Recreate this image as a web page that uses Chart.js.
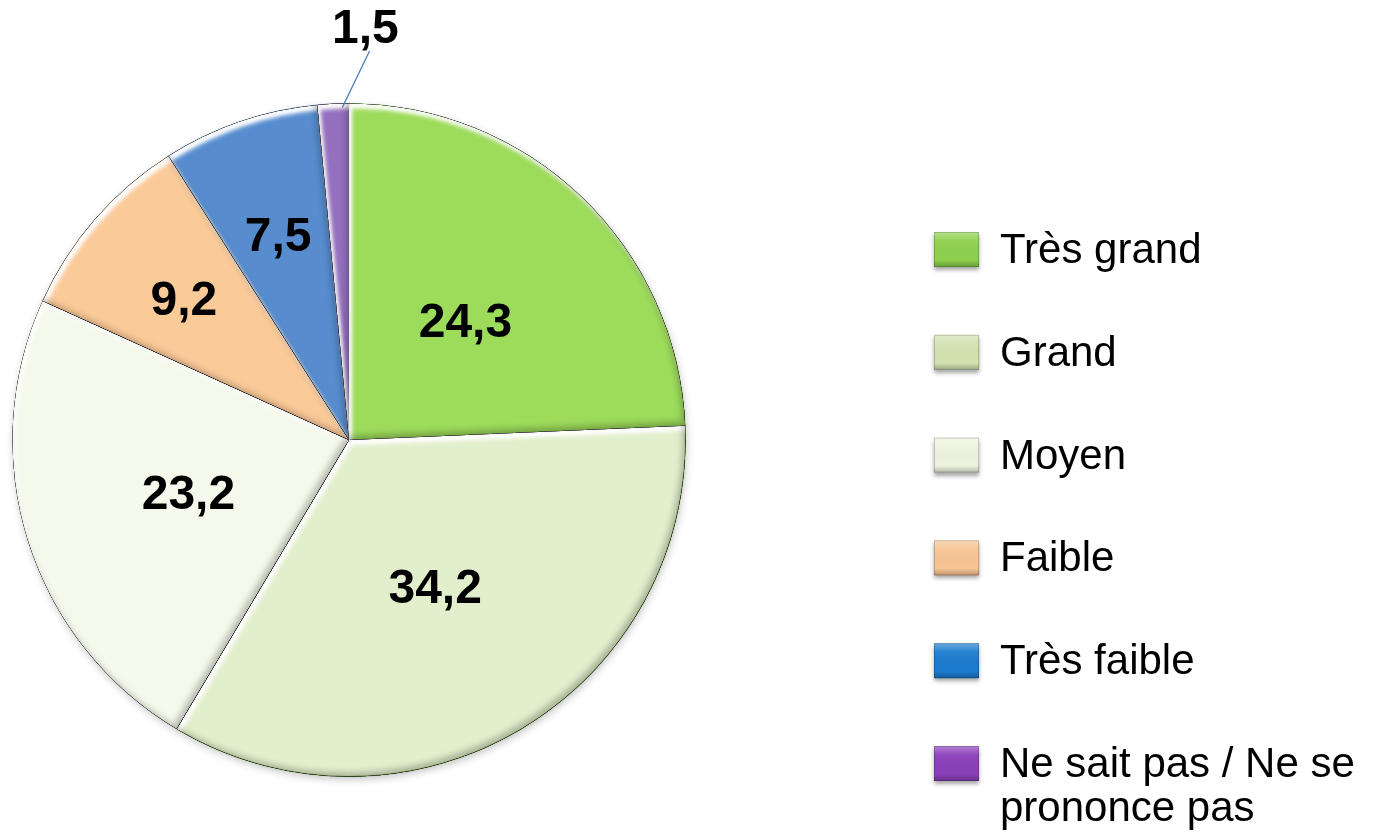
<!DOCTYPE html>
<html lang="fr">
<head>
<meta charset="utf-8">
<title>Répartition des réponses</title>
<script src="https://cdn.jsdelivr.net/npm/chart.js@4.4.1/dist/chart.umd.min.js"></script>
<style>
  html, body { margin: 0; padding: 0; background: #ffffff; }
  #wrap { position: relative; width: 1376px; height: 837px; }
  canvas { display: block; }
</style>
</head>
<body>
<div id="wrap"><canvas id="pie" width="1376" height="837"></canvas></div>
<script>
// Categories and shares (%)
const categories = ['Très grand', 'Grand', 'Moyen', 'Faible', 'Très faible', 'Ne sait pas / Ne se prononce pas'];
const legendLines = [['Très grand'], ['Grand'], ['Moyen'], ['Faible'], ['Très faible'], ['Ne sait pas / Ne se', 'prononce pas']];
const shares = [24.3, 34.2, 23.2, 9.2, 7.5, 1.5];
const shareLabels = ['24,3', '34,2', '23,2', '9,2', '7,5', '1,5'];

// Slice colours, edge colours and legend swatch colours
const sliceColors = ['#9ddb5b', '#e2efcc', '#f5f9eb', '#fbca99', '#578dcf', '#9470bf'];
const edgeColors = ['#86c24a', '#7fae4c', '#e3e8d8', '#e0ad7c', '#4f82c0', '#7f5aa8'];
const swatchColors = ['#8ed04d', '#d2e3b0', '#edf3df', '#f8c594', '#1b7bcf', '#8b3fbb'];

const FONT = '"Liberation Sans", Arial, Helvetica, sans-serif';

function slicePath(ctx, a) {
  ctx.beginPath();
  ctx.moveTo(a.x, a.y);
  ctx.arc(a.x, a.y, a.outerRadius, a.startAngle, a.endAngle);
  ctx.closePath();
}

// Bevel look: light inner edge towards the top-left, darker towards the bottom-right
const bevelPlugin = {
  id: 'bevel',
  beforeDatasetsDraw(chart) {
    const ctx = chart.ctx;
    const arc = chart.getDatasetMeta(0).data[0];
    if (!arc) return;
    const p = arc.getProps(['x', 'y', 'outerRadius'], true);
    ctx.save();
    ctx.shadowColor = 'rgba(0,0,0,0.28)';
    ctx.shadowBlur = 8;
    ctx.shadowOffsetX = 1;
    ctx.shadowOffsetY = 3;
    ctx.beginPath();
    ctx.arc(p.x, p.y, p.outerRadius - 1, 0, Math.PI * 2);
    ctx.fillStyle = '#ffffff';
    ctx.fill();
    ctx.restore();
  },
  afterDatasetsDraw(chart) {
    const ctx = chart.ctx;
    const meta = chart.getDatasetMeta(0);
    meta.data.forEach((el) => {
      const a = el.getProps(['x', 'y', 'startAngle', 'endAngle', 'outerRadius'], true);
      const passes = [
        { color: 'rgba(255,255,255,0.95)', dx: 3, dy: 5, blur: 4 },
        { color: 'rgba(255,255,255,0.6)', dx: 2, dy: 3, blur: 3 },
        { color: 'rgba(0,0,0,0.25)', dx: -3, dy: -4, blur: 6 }
      ];
      passes.forEach((s) => {
        ctx.save();
        slicePath(ctx, a);
        ctx.clip();
        ctx.beginPath();
        ctx.rect(a.x - 2000, a.y - 2000, 4000, 4000);
        ctx.moveTo(a.x, a.y);
        ctx.arc(a.x, a.y, a.outerRadius, a.startAngle, a.endAngle);
        ctx.closePath();
        ctx.shadowColor = s.color;
        ctx.shadowBlur = s.blur;
        ctx.shadowOffsetX = s.dx;
        ctx.shadowOffsetY = s.dy;
        ctx.fillStyle = '#000';
        ctx.fill('evenodd');
        ctx.restore();
      });
    });
  }
};

// Value labels inside the slices, with a leader line for the thin slice
const valueLabelPlugin = {
  id: 'valueLabels',
  afterDatasetsDraw(chart) {
    const ctx = chart.ctx;
    const meta = chart.getDatasetMeta(0);
    ctx.save();
    ctx.font = 'bold 48px ' + FONT;
    ctx.fillStyle = '#000000';
    ctx.textAlign = 'center';
    ctx.textBaseline = 'middle';
    meta.data.forEach((el, i) => {
      const a = el.getProps(['x', 'y', 'startAngle', 'endAngle', 'outerRadius'], true);
      const mid = (a.startAngle + a.endAngle) / 2;
      const v = shares[i];
      if (v < 3) {
        const la = mid + 0.087;
        const lx = a.x + Math.cos(la) * (a.outerRadius + 76);
        const ly = a.y + Math.sin(la) * (a.outerRadius + 76);
        const s0 = mid + 0.027;
        const e0 = mid + 0.1;
        ctx.save();
        ctx.strokeStyle = '#4a7ebb';
        ctx.lineWidth = 1.3;
        ctx.beginPath();
        ctx.moveTo(a.x + Math.cos(s0) * (a.outerRadius - 4), a.y + Math.sin(s0) * (a.outerRadius - 4));
        ctx.lineTo(a.x + Math.cos(e0) * (a.outerRadius + 53), a.y + Math.sin(e0) * (a.outerRadius + 53));
        ctx.stroke();
        ctx.restore();
        ctx.fillText(shareLabels[i], lx, ly + 2);
      } else {
        const f = v > 20 ? 0.5 : 0.65;
        const lx = a.x + Math.cos(mid) * a.outerRadius * f;
        const ly = a.y + Math.sin(mid) * a.outerRadius * f;
        ctx.fillText(shareLabels[i], lx, ly + 5);
      }
    });
    ctx.restore();
  }
};

// Legend column on the right with bevelled swatches
const legendPlugin = {
  id: 'sideLegend',
  afterDraw(chart) {
    const ctx = chart.ctx;
    const x0 = 934, boxW = 45, boxH = 35, textX = 1000;
    const firstBaseline = 263, step = 102.8, lineH = 44;
    chart.data.labels.forEach((lab, i) => {
      const base = firstBaseline + i * step;
      const by = base - 31;
      ctx.save();
      ctx.shadowColor = 'rgba(0,0,0,0.35)';
      ctx.shadowBlur = 4;
      ctx.shadowOffsetY = 3;
      ctx.fillStyle = swatchColors[i];
      ctx.fillRect(x0, by, boxW, boxH);
      ctx.restore();
      // bevel on the swatch
      ctx.save();
      const g = ctx.createLinearGradient(0, by, 0, by + boxH);
      g.addColorStop(0, 'rgba(255,255,255,0.35)');
      g.addColorStop(0.25, 'rgba(255,255,255,0.05)');
      g.addColorStop(0.8, 'rgba(0,0,0,0.0)');
      g.addColorStop(1, 'rgba(0,0,0,0.25)');
      ctx.fillStyle = g;
      ctx.fillRect(x0, by, boxW, boxH);
      ctx.strokeStyle = 'rgba(0,0,0,0.18)';
      ctx.lineWidth = 1;
      ctx.strokeRect(x0 + 0.5, by + 0.5, boxW - 1, boxH - 1);
      ctx.restore();
      ctx.save();
      ctx.font = '42px ' + FONT;
      ctx.fillStyle = '#000000';
      ctx.textAlign = 'left';
      ctx.textBaseline = 'alphabetic';
      legendLines[i].forEach((line, k) => {
        ctx.fillText(line, textX, base + k * lineH);
      });
      ctx.restore();
    });
  }
};

new Chart(document.getElementById('pie'), {
  type: 'pie',
  data: {
    labels: categories,
    datasets: [{
      data: shares,
      backgroundColor: sliceColors,
      borderColor: edgeColors,
      borderWidth: 1,
      hoverOffset: 0,
      offset: 0
    }]
  },
  options: {
    responsive: false,
    animation: false,
    events: [],
    layout: { padding: { left: 12, top: 103, right: 690, bottom: 60 } },
    plugins: {
      legend: { display: false },
      tooltip: { enabled: false },
      title: { display: false }
    }
  },
  plugins: [bevelPlugin, valueLabelPlugin, legendPlugin]
});
</script>
</body>
</html>
